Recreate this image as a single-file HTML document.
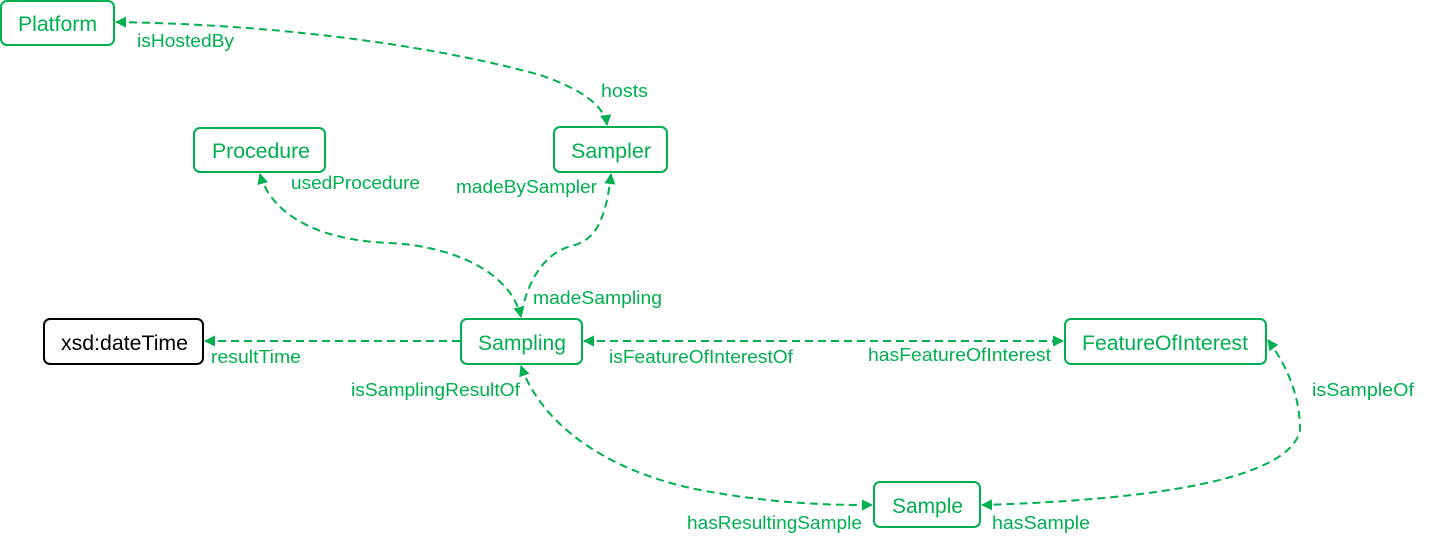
<!DOCTYPE html>
<html><head><style>
body{margin:0;background:#fff;}
svg{display:block;font-family:"Liberation Sans",Arial,sans-serif;}
</style></head><body>
<svg width="1431" height="544" viewBox="0 0 1431 544">
<defs>
<marker id="a" markerWidth="11" markerHeight="11" refX="10" refY="5.5" orient="auto-start-reverse" markerUnits="userSpaceOnUse">
<path d="M0,0 L11,5.5 L0,11 z" fill="#00b050"/></marker>
</defs>
<g fill="none" stroke="#00b050" stroke-width="2" stroke-dasharray="8,5">
<path d="M116,22 C300,25 450,50 540,75 C590,92 605,110 607,125" marker-start="url(#a)" marker-end="url(#a)"/>
<path d="M260,174 C270,210 310,240 390,243 C450,246 510,270 521,317" marker-start="url(#a)" marker-end="url(#a)"/>
<path d="M611,174 C605,230 590,240 575,245 C540,252 525,290 521,317" marker-start="url(#a)"/>
<path d="M460,341 L205,341" marker-end="url(#a)"/>
<path d="M584,341 L1063,341" marker-start="url(#a)" marker-end="url(#a)"/>
<path d="M521,366 C540,420 600,470 700,490 C780,505 840,505 872,505" marker-start="url(#a)" marker-end="url(#a)"/>
<path d="M1268,340 C1290,370 1300,400 1300,430 C1290,480 1150,500 982,505" marker-start="url(#a)" marker-end="url(#a)"/>
</g>
<g fill="#fff" stroke="#00b050" stroke-width="2">
<rect x="1" y="1" width="113" height="44" rx="6"/>
<rect x="194" y="128" width="131" height="44" rx="6"/>
<rect x="554" y="127" width="113" height="45" rx="6"/>
<rect x="461" y="319" width="121" height="45" rx="6"/>
<rect x="1065" y="319" width="201" height="45" rx="6"/>
<rect x="874" y="482" width="106" height="45" rx="6"/>
<rect x="44" y="319" width="159" height="45" rx="6" stroke="#000"/>
</g>
<g fill="#00b050" font-size="21">
<text x="18" y="31" textLength="79" lengthAdjust="spacingAndGlyphs">Platform</text>
<text x="212" y="158" textLength="98" lengthAdjust="spacingAndGlyphs">Procedure</text>
<text x="571" y="158" textLength="80" lengthAdjust="spacingAndGlyphs">Sampler</text>
<text x="478" y="350" textLength="88" lengthAdjust="spacingAndGlyphs">Sampling</text>
<text x="1082" y="350" textLength="166" lengthAdjust="spacingAndGlyphs">FeatureOfInterest</text>
<text x="892" y="513" textLength="71" lengthAdjust="spacingAndGlyphs">Sample</text>
<text x="61" y="350" textLength="127" lengthAdjust="spacingAndGlyphs" fill="#000">xsd:dateTime</text>
</g>
<g fill="#00b050" font-size="18">
<text x="137" y="47" textLength="97" lengthAdjust="spacingAndGlyphs">isHostedBy</text>
<text x="601" y="97" textLength="47" lengthAdjust="spacingAndGlyphs">hosts</text>
<text x="291" y="189" textLength="129" lengthAdjust="spacingAndGlyphs">usedProcedure</text>
<text x="456" y="193" textLength="141" lengthAdjust="spacingAndGlyphs">madeBySampler</text>
<text x="533" y="304" textLength="129" lengthAdjust="spacingAndGlyphs">madeSampling</text>
<text x="211" y="363" textLength="90" lengthAdjust="spacingAndGlyphs">resultTime</text>
<text x="609" y="363" textLength="184" lengthAdjust="spacingAndGlyphs">isFeatureOfInterestOf</text>
<text x="868" y="361" textLength="183" lengthAdjust="spacingAndGlyphs">hasFeatureOfInterest</text>
<text x="351" y="396" textLength="169" lengthAdjust="spacingAndGlyphs">isSamplingResultOf</text>
<text x="1312" y="396" textLength="102" lengthAdjust="spacingAndGlyphs">isSampleOf</text>
<text x="687" y="529" textLength="175" lengthAdjust="spacingAndGlyphs">hasResultingSample</text>
<text x="992" y="529" textLength="98" lengthAdjust="spacingAndGlyphs">hasSample</text>
</g>
</svg>
</body></html>
